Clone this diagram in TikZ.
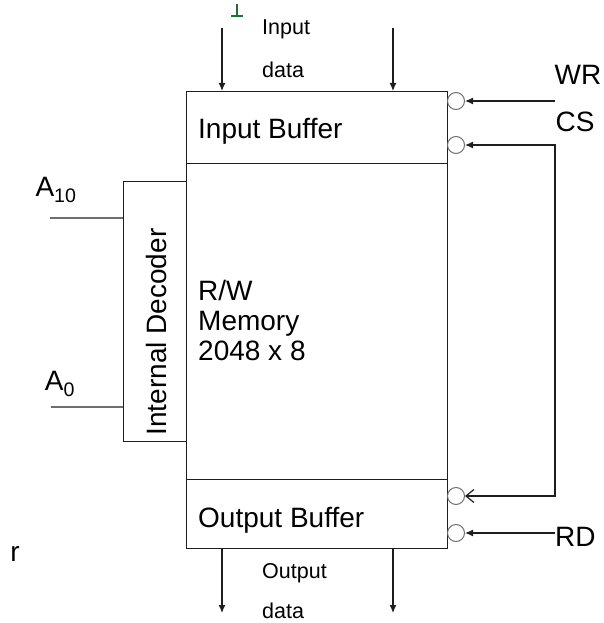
\documentclass[tikz,border=0pt]{standalone}
\usepackage{fontspec}
\setmainfont{Liberation Sans}
\usepackage{tikz}
\usetikzlibrary{calc,positioning,arrows.meta}
\definecolor{RamLine}{RGB}{30,30,30}
\definecolor{RamGray}{RGB}{110,110,110}
\definecolor{RamGreen}{RGB}{25,115,55}

\begin{document}
\begin{tikzpicture}[x=1pt,y=-1pt,
    blk/.style={draw=RamLine,line width=1.3pt,rectangle,inner sep=0pt,anchor=north west},
    bub/.style={draw=RamGray,line width=1pt,circle,inner sep=0pt,minimum size=17pt},
    big/.style={font=\fontsize{28}{30}\selectfont,inner sep=0pt},
    small/.style={font=\fontsize{21.5}{24}\selectfont,inner sep=0pt,anchor=base west},
    wire/.style={RamLine,line width=1.2pt}]
  \useasboundingbox (0,0) rectangle (603,623);
  % memory chip
  \node[blk,minimum width=261pt,minimum height=72pt] (inbuf) at (186,91) {};
  \node[blk,minimum width=261pt,minimum height=316pt] (mem) at (186,163) {};
  \node[blk,minimum width=261pt,minimum height=69pt] (outbuf) at (186,479) {};
  \node[blk,minimum width=63pt,minimum height=260pt] (dec) at (123,181) {};
  \node[big,anchor=base west] (inlbl) at (198,138) {Input Buffer};
  \node[big,anchor=base west] (outlbl) at (198,527) {Output Buffer};
  \node[big,anchor=north west,align=left] (memlbl) at (198,280) {R/W\\Memory\\2048 x 8};
  \node[big,rotate=90] (declbl) at (156,332) {Internal Decoder};
  % data lines
  \node[small] (indata1) at (262,35) {Input};
  \node[small] (indata2) at (262,78) {data};
  \node[small] (outdata1) at (262,578) {Output};
  \node[small] (outdata2) at (262,618) {data};
  \foreach \x in {222,393} {
    \coordinate (in\x) at (\x,28);
    \coordinate (out\x) at (\x,613);
    \draw[wire,-{Latex[length=8pt,width=7pt]}] (in\x) -- (in\x |- inbuf.north);
    \draw[wire,-{Latex[length=8pt,width=7pt]}] (out\x |- outbuf.south) -- (out\x);
  }
  % address lines
  \node[big] (a10) at (56,190) {A\textsubscript{10}};
  \node[big] (a0) at (60,384) {A\textsubscript{0}};
  \coordinate (a10end) at (50,218);
  \coordinate (a0end) at (51,407);
  \draw[wire,RamGray] (a10end) -- (a10end -| dec.west);
  \draw[wire,RamGray] (a0end) -- (a0end -| dec.west);
  % control lines
  \node[bub] (bwr) at (456,101) {};
  \node[bub] (bcs1) at (456,145) {};
  \node[bub] (bcs2) at (456,496) {};
  \node[bub] (brd) at (456,533) {};
  \node[big] (wr) at (578,75) {WR};
  \node[big] (cs) at (575,122) {CS};
  \node[big,anchor=west] (rd) at (555,537) {RD};
  \coordinate (wrsrc) at (555,101);
  \coordinate (csr) at (555,145);
  \draw[wire,-{Latex[length=8pt,width=7pt]}] (wrsrc) -- (bwr.east);
  \draw[wire,{Latex[length=8pt,width=7pt]}-{Straight Barb[length=8pt,width=13pt]}] (bcs1.east) -- (csr) -- (csr |- bcs2) -- (bcs2.east);
  \draw[wire,-{Latex[length=8pt,width=7pt]}] (rd.west |- brd) -- (brd.east);
  % stray marks
  \node[big] (stray) at (15,554) {r};
  \draw[RamGreen,line width=2pt] (237,4) -- (237,15) (231,16) -- (243,16);
\end{tikzpicture}
\end{document}
